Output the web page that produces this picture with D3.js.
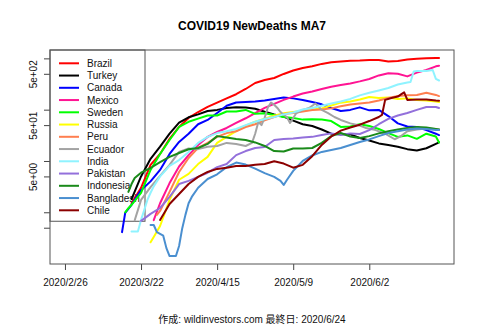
<!DOCTYPE html>
<html>
<head>
<meta charset="utf-8">
<script src="https://cdn.jsdelivr.net/npm/d3@7"></script>
<style>
body { margin: 0; background: #fff; }
svg { font-family: "Liberation Sans", Arial, "Noto Sans CJK JP", sans-serif; }
</style>
</head>
<body>
<div id="chart"></div>
<script>
"use strict";

// x is the row index of the data: row 0 = 2020/2/26 ... row 118 = 2020/6/24
const dayRange = [0, 118];
const tickIdx = [0, 24, 48, 72, 96];
const tickLabels = ["2020/2/26", "2020/3/22", "2020/4/15", "2020/5/9", "2020/6/2"];
const yTicks = [1000, 500, 100, 50, 10, 5, 1, 0.5];

const countries = ["Brazil", "Turkey", "Canada", "Mexico", "Sweden", "Russia", "Peru",
    "Ecuador", "India", "Pakistan", "Indonesia", "Bangladesh", "Chile"];
const colors = ["#ff0000", "#000000", "#0000ff", "#ff1493", "#00ff00", "#ffff00", "#ff7f50",
    "#a3a3a3", "#8ff3ff", "#9370db", "#1a8a1a", "#4a8fd0", "#8b0000"];

// [day index, 7-day average of new deaths]
const brazil = [[21,1.5],[24,3],[27,8.4],[30,13.7],[33,27],[36,46],[39,69],[42,90],[45,113],[48,137],[51,166],[54,200],[57,253],[60,331],[63,379],[66,415],[69,497],[72,580],[75,650],[78,700],[81,780],[84,836],[87,870],[90,900],[93,910],[96,931],[99,931],[102,870],[105,890],[108,950],[111,980],[114,1000],[117,1018],[118,1020]];
const turkey = [[21,1.8],[24,5],[27,11],[30,19],[33,34],[36,56],[39,71],[42,81],[45,94],[48,99],[51,108],[54,111],[57,110],[60,104],[63,91],[66,81],[69,73],[72,61],[75,52],[78,48],[81,41],[84,34],[87,33],[90,33],[93,28],[96,25],[99,22],[102,20.5],[105,19],[108,17],[111,16],[114,17.7],[117,21.5],[118,23]];
const canada = [[18,0.41],[19,0.97],[21,1.4],[23,2.2],[24,2.7],[27,4],[30,6.7],[33,13.7],[36,23.5],[39,34],[42,52],[45,63],[48,86],[51,119],[54,138],[57,141],[60,144],[63,151],[66,162],[69,172],[72,166],[75,155],[78,141],[81,127],[84,108],[87,94],[90,99],[93,111],[96,97],[99,99],[102,75],[105,54],[108,47],[111,46],[114,40],[117,34],[118,32]];
const mexico = [[28,0.7],[30,1.5],[33,3.7],[36,7.8],[39,13],[42,20.5],[45,29.5],[48,36.7],[51,44],[54,55],[57,68],[60,86],[63,108],[66,130],[69,155],[72,180],[75,206],[78,226],[81,253],[84,280],[87,303],[90,325],[93,356],[96,397],[99,465],[102,514],[105,500],[108,445],[111,528],[114,594],[117,700],[118,720]];
const sweden = [[19,1.0],[20,1.2],[21,1.4],[24,2.4],[27,6.7],[30,13.7],[33,25.6],[36,46],[39,58],[42,67],[45,77],[48,77],[51,92],[54,92],[57,99],[60,83],[63,85],[66,79],[69,72],[72,69],[75,64],[78,65],[81,64],[84,60],[87,46],[90,47],[93,52],[96,48],[99,42],[102,35],[105,29.5],[108,31.5],[111,27],[114,34],[117,30],[118,23]];
const russia = [[27,0.26],[28,0.33],[30,0.54],[33,1.74],[36,4.3],[39,5.6],[42,8.7],[45,12],[48,22.5],[51,29.5],[54,38],[57,49],[60,58],[63,67],[66,76],[69,85],[72,90],[75,95],[78,101],[81,106],[84,121],[87,137],[90,144],[93,158],[96,177],[99,169],[102,172],[105,162],[108,166],[111,155],[114,151],[117,144],[118,141]];
const peru = [[29,0.89],[30,1.06],[33,2.5],[36,6.1],[39,11.4],[42,18],[45,22.5],[48,29.5],[51,35],[54,38],[57,46],[60,52],[63,62],[66,72],[69,82],[72,86],[75,92],[78,99],[81,101],[84,106],[87,117],[90,126],[93,132],[96,138],[99,151],[102,169],[105,184],[108,190],[111,194],[114,213],[117,194],[118,184]];
const ecuador = [[22,0.7],[23,1.1],[24,1.74],[27,3.1],[30,5.1],[33,8.4],[36,15],[39,17.5],[42,17],[45,19],[48,19.6],[51,22.5],[54,21.5],[57,19.6],[59,22.5],[60,34],[61,57.6],[62,50],[63,70],[64,110],[65,137],[66,125],[67,108],[68,90],[69,79],[70,72],[71,55],[72,69],[73,86],[75,99],[77,108],[79,132],[81,99],[83,86],[85,72],[87,63],[90,54],[93,49],[95,44],[98,40],[101,34],[104,26.5],[106,30.5],[108,38],[111,41],[114,43],[117,42],[118,41]];
const india = [[21,0.42],[23,0.42],[24,0.71],[25,1.1],[26,1.74],[27,2.4],[28,3.2],[30,5.0],[33,8.0],[36,10.4],[39,15],[42,22.5],[45,29.5],[48,35],[51,38],[54,42],[57,50],[60,58],[63,66],[66,72],[69,81],[72,88],[75,101],[78,108],[81,119],[84,132],[87,144],[90,162],[93,190],[96,213],[99,237],[102,265],[105,310],[108,340],[109,347],[110,555],[111,565],[114,565],[116,594],[117,397],[118,370]];
const pakistan = [[24,0.68],[27,0.93],[30,1.21],[33,1.99],[36,3.55],[39,4.1],[42,4.9],[45,5.9],[48,7.6],[51,8.7],[54,13],[57,15.6],[60,17.9],[63,18.7],[66,25.6],[69,26.8],[72,27.5],[75,28.7],[78,29.5],[81,32],[84,34.5],[87,32],[90,34.5],[93,33.5],[96,40],[99,52],[102,66],[105,77],[108,86],[111,99],[114,113],[117,113],[118,108]];
const indonesia = [[20,2.5],[21,3.55],[22,4.66],[24,5.9],[27,7.3],[30,9.5],[33,12],[36,14.3],[39,16.9],[42,17.9],[45,21.5],[48,30.5],[51,28.7],[54,26.8],[57,25.6],[60,23],[63,19.6],[66,15.6],[69,15.3],[72,17.5],[75,17.5],[78,17.9],[81,22.5],[84,30.5],[87,35],[90,30],[93,28],[96,30.5],[99,34.5],[102,38],[105,41],[108,44],[111,46],[114,45],[117,42],[118,41]];
const bangladesh = [[27,0.565],[28,0.565],[29,0.41],[31,0.35],[32,0.2],[33,0.14],[35,0.14],[36,0.22],[37,0.49],[38,0.89],[39,1.5],[40,1.99],[42,3.0],[45,4.45],[48,5.5],[51,7.6],[54,9.3],[57,8.5],[60,7.1],[63,5.8],[66,4.9],[68,4.1],[69,3.41],[70,4.26],[72,6.4],[75,10],[78,12.8],[81,15],[84,16.4],[87,17.9],[90,20.5],[93,23.5],[96,26.3],[99,30.5],[102,35],[105,38],[108,41],[111,43],[114,42],[117,40],[118,40]];
const chile = [[30,0.71],[33,1.45],[36,2.27],[39,3.55],[42,4.9],[45,6.1],[48,7.0],[51,7.4],[54,8.0],[57,8.0],[60,8.4],[63,8.7],[66,9.9],[69,8.9],[72,7.4],[75,8.4],[78,12.4],[81,20.5],[84,30],[87,39],[90,45],[93,51],[96,60],[99,72],[100,79],[101,155],[103,169],[105,180],[106,198],[107,218],[108,155],[111,158],[114,158],[117,151],[118,150]];

const seriesData = [brazil, turkey, canada, mexico, sweden, russia, peru,
    ecuador, india, pakistan, indonesia, bangladesh, chile];

const width = 480, height = 327;
const margin = {left: 50, right: 26, top: 50, bottom: 63};

const svg = d3.select("#chart").append("svg")
    .attr("width", width)
    .attr("height", height);

// R style 4% padding on both axes
const xPad = (dayRange[1] - dayRange[0]) * 0.04;
const x = d3.scaleLinear()
    .domain([dayRange[0] - xPad, dayRange[1] + xPad])
    .range([margin.left, width - margin.right]);

const allPts = seriesData.flat();
const yExt = d3.extent(allPts, d => Math.log10(d[1]));
const yPad = (yExt[1] - yExt[0]) * 0.04;
const y = d3.scaleLog()
    .domain([Math.pow(10, yExt[0] - yPad), Math.pow(10, yExt[1] + yPad)])
    .range([height - margin.bottom, margin.top]);

// title
svg.append("text")
    .attr("x", (margin.left + width - margin.right) / 2)
    .attr("y", 30)
    .attr("text-anchor", "middle")
    .style("font-size", "12px")
    .style("font-weight", "bold")
    .text("COVID19 NewDeaths MA7");

// x axis
const xAxis = d3.axisBottom(x)
    .tickValues(tickIdx)
    .tickFormat((d, i) => tickLabels[i])
    .tickSize(6)
    .tickPadding(9);
const gx = svg.append("g")
    .attr("transform", "translate(0," + (height - margin.bottom) + ")")
    .call(xAxis);
gx.select(".domain").remove();
gx.selectAll("text").style("font-size", "10px").style("font-family", null).attr("fill", "#111");
gx.selectAll("line").attr("stroke", "#444");

// y axis, only the 5e labels are printed
const yAxis = d3.axisLeft(y)
    .tickValues(yTicks)
    .tickFormat(d => String(d)[0] === "5" ? d3.format(".0e")(d).replace(/e([+-])(\d)$/, "e$10$2") : "")
    .tickSize(6);
const gy = svg.append("g")
    .attr("transform", "translate(" + margin.left + ",0)")
    .call(yAxis);
gy.select(".domain").remove();
gy.selectAll("line").attr("stroke", "#444");
gy.selectAll("text")
    .attr("x", 0)
    .attr("dy", 0)
    .attr("transform", "translate(-13,0) rotate(-90)")
    .style("text-anchor", "middle")
    .style("font-size", "10px")
    .style("font-family", null)
    .attr("fill", "#111");

// legend (drawn under the lines)
const legend = svg.append("g");
const rowH = 12.25;
const legendH = rowH * countries.length + 12;
legend.append("rect")
    .attr("x", margin.left)
    .attr("y", margin.top)
    .attr("width", 95)
    .attr("height", legendH)
    .attr("fill", "none")
    .attr("stroke", "#555");
const rows = legend.selectAll("g.row")
    .data(countries)
    .enter()
    .append("g")
    .attr("class", "row")
    .attr("transform", (d, i) => "translate(" + margin.left + "," + (margin.top + 13.3 + i * rowH) + ")");
rows.append("line")
    .attr("x1", 9).attr("x2", 29)
    .attr("stroke", (d, i) => colors[i])
    .attr("stroke-width", 2);
rows.append("text")
    .attr("x", 37)
    .attr("dy", "0.35em")
    .style("font-size", "10px")
    .attr("fill", "#111")
    .text(d => d);

// lines
const line = d3.line()
    .x(d => x(d[0]))
    .y(d => y(d[1]));
svg.append("g").selectAll("path")
    .data(seriesData)
    .enter()
    .append("path")
    .attr("d", line)
    .attr("fill", "none")
    .attr("stroke", (d, i) => colors[i])
    .attr("stroke-width", 2)
    .attr("stroke-linejoin", "round")
    .attr("stroke-linecap", "round");

// plot box
svg.append("rect")
    .attr("x", margin.left)
    .attr("y", margin.top)
    .attr("width", width - margin.left - margin.right)
    .attr("height", height - margin.top - margin.bottom)
    .attr("fill", "none")
    .attr("stroke", "#555");

// footer
svg.append("text")
    .attr("x", (margin.left + width - margin.right) / 2)
    .attr("y", 323)
    .attr("text-anchor", "middle")
    .style("font-size", "10px")
    .attr("fill", "#111")
    .text("作成: wildinvestors.com 最終日: 2020/6/24");
</script>
</body>
</html>
